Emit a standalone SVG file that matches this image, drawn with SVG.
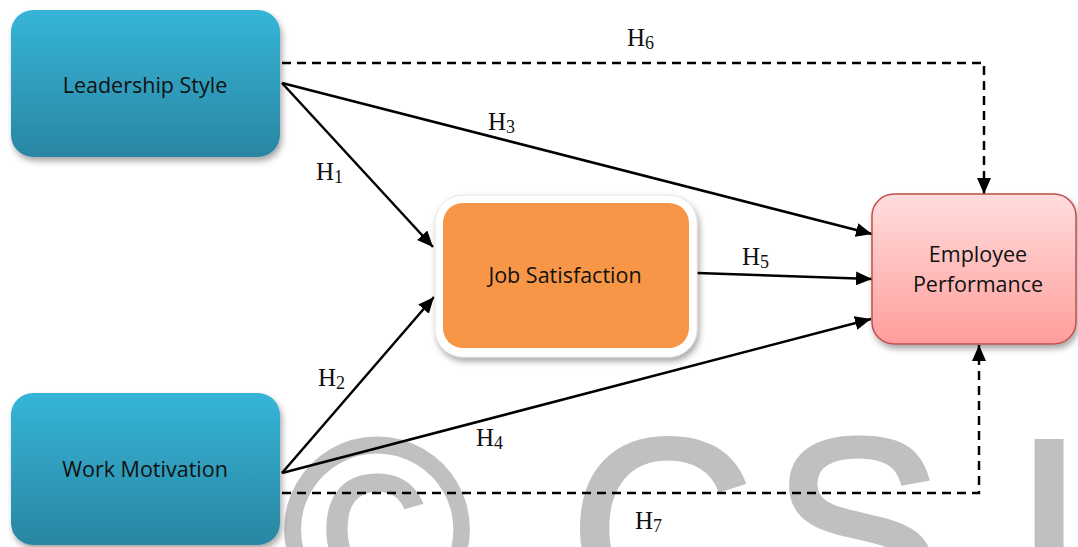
<svg xmlns="http://www.w3.org/2000/svg" width="1078" height="547" viewBox="0 0 1078 547">
  <defs>
    <linearGradient id="gBlue" x1="0" y1="0" x2="0" y2="1">
      <stop offset="0" stop-color="#35b5d8"/>
      <stop offset="1" stop-color="#2a86a2"/>
    </linearGradient>
    <linearGradient id="gPink" x1="0" y1="0" x2="0" y2="1">
      <stop offset="0" stop-color="#ffdddd"/>
      <stop offset="1" stop-color="#ff9e9c"/>
    </linearGradient>
    <filter id="shadow" x="-10%" y="-10%" width="125%" height="130%">
      <feDropShadow dx="2" dy="4" stdDeviation="3" flood-color="#000" flood-opacity="0.35"/>
    </filter>
    <marker id="arrow" viewBox="0 0 16 14" refX="16" refY="7" markerWidth="16" markerHeight="14" markerUnits="userSpaceOnUse" orient="auto">
      <path d="M0,0 L16,7 L0,14 Z" fill="#000"/>
    </marker>
  </defs>
  <style>
    .node-text { font-family: "Open Sans", "Noto Sans", sans-serif; font-size: 21.5px; fill: #111; text-anchor: middle; }
    .label { font-family: "Liberation Serif", "DejaVu Serif", serif; font-size: 25px; fill: #111; }
    .sub { font-size: 18px; }
    .solid { fill: none; stroke: #000; stroke-width: 2.5; marker-end: url(#arrow); }
    .dashed { fill: none; stroke: #000; stroke-width: 2.5; stroke-dasharray: 9 6; marker-end: url(#arrow); }
    .mark { font-family: "Liberation Sans", Arial, sans-serif; font-size: 256px; fill: #c0c0c0; stroke: #c0c0c0; stroke-width: 5; text-anchor: middle; }
  </style>

  <rect width="1078" height="547" fill="#fff"/>

  <!-- background mark -->
  <g id="watermark">
    <text class="mark" x="377" y="618">©</text>
    <text class="mark" x="662" y="618">C</text>
    <text class="mark" x="857" y="618">S</text>
    <text class="mark" x="1049" y="618">I</text>
  </g>

  <g id="connectors">
    <!-- H6 -->
    <path class="dashed" d="M282,63 H984 V194"/>
    <!-- H7 -->
    <path class="dashed" d="M282,493 H979 V345"/>
    <!-- H1 -->
    <path class="solid" d="M282,83 L433,247"/>
    <!-- H3 -->
    <path class="solid" d="M282,83 L872,234"/>
    <!-- H2 -->
    <path class="solid" d="M282,473 L434,297"/>
    <!-- H4 -->
    <path class="solid" d="M282,473 L871,319"/>
    <!-- H5 -->
    <path class="solid" d="M697,273 L872,279"/>
  </g>

  <g id="labels">
    <text class="label" x="627" y="46">H<tspan class="sub" dy="3">6</tspan></text>
    <text class="label" x="488" y="130">H<tspan class="sub" dy="3">3</tspan></text>
    <text class="label" x="316" y="180">H<tspan class="sub" dy="3">1</tspan></text>
    <text class="label" x="318" y="386">H<tspan class="sub" dy="3">2</tspan></text>
    <text class="label" x="476" y="446">H<tspan class="sub" dy="3">4</tspan></text>
    <text class="label" x="742" y="265">H<tspan class="sub" dy="3">5</tspan></text>
    <text class="label" x="635" y="529">H<tspan class="sub" dy="3">7</tspan></text>
  </g>

  <g id="leadership-style">
    <rect x="11" y="10" width="269" height="147" rx="22" fill="url(#gBlue)" filter="url(#shadow)"/>
    <text class="node-text" x="145" y="93">Leadership Style</text>
  </g>

  <g id="work-motivation">
    <rect x="11" y="393" width="269" height="152" rx="22" fill="url(#gBlue)" filter="url(#shadow)"/>
    <text class="node-text" x="145" y="477">Work Motivation</text>
  </g>

  <g id="job-satisfaction">
    <rect x="435" y="195" width="262" height="162" rx="28" fill="#fff" stroke="#e6e6e6" stroke-width="1" filter="url(#shadow)"/>
    <rect x="443" y="203" width="246" height="145" rx="20" fill="#f79646"/>
    <text class="node-text" x="565" y="283">Job Satisfaction</text>
  </g>

  <g id="employee-performance">
    <rect x="872" y="194" width="204" height="150" rx="22" fill="url(#gPink)" stroke="#c0504d" stroke-width="1.5" filter="url(#shadow)"/>
    <text class="node-text" x="978" y="262">Employee</text>
    <text class="node-text" x="978" y="292">Performance</text>
  </g>
</svg>
